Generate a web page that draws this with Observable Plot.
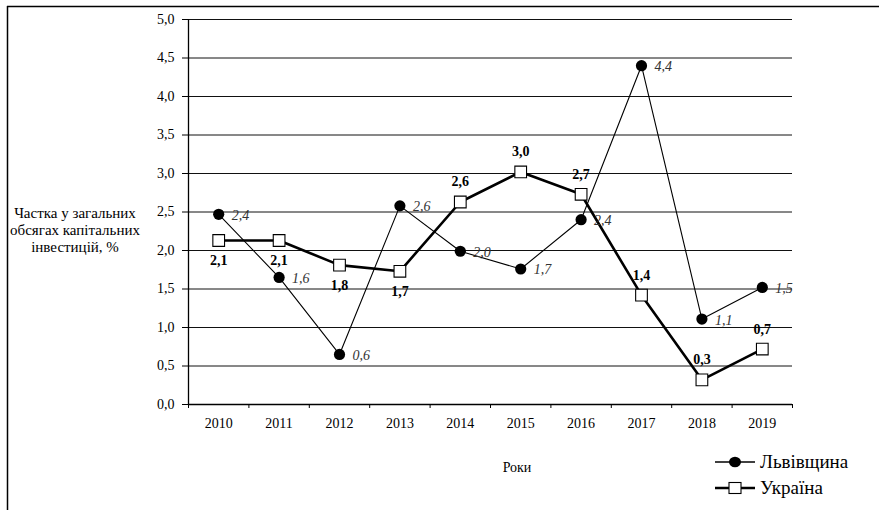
<!DOCTYPE html>
<html>
<head>
<meta charset="utf-8">
<script src="https://cdn.jsdelivr.net/npm/d3@7"></script>
<script src="https://cdn.jsdelivr.net/npm/@observablehq/plot@0.6"></script>
<style>
  html, body { margin: 0; padding: 0; background: #fff; }
  #chart { width: 879px; height: 510px; }
</style>
</head>
<body>
<div id="chart"></div>
<script>
const years = [2010, 2011, 2012, 2013, 2014, 2015, 2016, 2017, 2018, 2019];
const lvivValues = [2.47, 1.65, 0.65, 2.58, 1.99, 1.76, 2.40, 4.40, 1.11, 1.52];
const lvivLabels = ["2,4", "1,6", "0,6", "2,6", "2,0", "1,7", "2,4", "4,4", "1,1", "1,5"];
const ukrValues = [2.13, 2.13, 1.81, 1.73, 2.63, 3.02, 2.73, 1.42, 0.32, 0.72];
const ukrLabels = ["2,1", "2,1", "1,8", "1,7", "2,6", "3,0", "2,7", "1,4", "0,3", "0,7"];
const yTicks = [0, 0.5, 1, 1.5, 2, 2.5, 3, 3.5, 4, 4.5, 5];
const seriesNames = ["Львівщина", "Україна"];
const yTitle = ["Частка у загальних", "обсягах капітальних", "інвестицій, %"];
const xTitle = "Роки";

const FONT = "'Liberation Serif', 'Times New Roman', serif";
const lviv = years.map((y, i) => ({year: y, value: lvivValues[i], label: lvivLabels[i], i}));
const ukr = years.map((y, i) => ({year: y, value: ukrValues[i], label: ukrLabels[i], i}));
const bounds = years.map(y => y - 0.5).concat([years[years.length - 1] + 0.5]);
const fmt = d => d.toFixed(1).replace(".", ",");

const svg = Plot.plot({
  width: 879,
  height: 510,
  marginLeft: 188,
  marginRight: 87,
  marginTop: 19,
  marginBottom: 106,
  style: {fontFamily: FONT, fontSize: "14px", background: "#fff", color: "#000"},
  x: {type: "linear", domain: [bounds[0], bounds[bounds.length - 1]]},
  y: {domain: [0, 5]},
  marks: [
    Plot.ruleY(yTicks.filter(d => d > 0), {stroke: "#111", strokeWidth: 1, strokeOpacity: 1}),
    Plot.ruleX([bounds[0]], {stroke: "#000", strokeWidth: 1.3}),
    Plot.ruleY([0], {stroke: "#000", strokeWidth: 1.3}),
    Plot.axisY({ticks: yTicks, tickFormat: fmt, tickSize: 6, tickPadding: 8, label: null, stroke: "#000", fill: "#000"}),
    Plot.axisX({ticks: bounds, tickFormat: () => "", tickSize: 4, label: null, stroke: "#000"}),
    Plot.axisX({ticks: years, tickFormat: d => String(d), tickSize: 0, tickPadding: 14, label: null, fill: "#000"}),
    Plot.line(lviv, {x: "year", y: "value", stroke: "#000", strokeWidth: 1.1}),
    Plot.line(ukr, {x: "year", y: "value", stroke: "#000", strokeWidth: 2.6}),
    Plot.dot(lviv, {x: "year", y: "value", r: 5.6, fill: "#000", stroke: "none"}),
    Plot.dot(ukr, {x: "year", y: "value", symbol: "square", r: 6.6, fill: "#fff", stroke: "#000", strokeWidth: 1.1}),
    Plot.text(lviv, {x: "year", y: "value", text: "label", dx: 13, dy: 1, textAnchor: "start", fontStyle: "italic", fill: "#333", fontSize: 14}),
    Plot.text(ukr.filter(d => d.i < 4), {x: "year", y: "value", text: "label", dy: 20, fontWeight: "bold", fill: "#000", fontSize: 14}),
    Plot.text(ukr.filter(d => d.i >= 4), {x: "year", y: "value", text: "label", dy: -20, fontWeight: "bold", fill: "#000", fontSize: 14})
  ]
});

document.getElementById("chart").appendChild(svg);

const g = d3.select(svg).append("g").attr("font-family", FONT);
// outer border (top and left edges)
g.append("line").attr("x1", 7).attr("x2", 879).attr("y1", 6.5).attr("y2", 6.5).attr("stroke", "#000").attr("stroke-width", 1.5);
g.append("line").attr("x1", 7.5).attr("x2", 7.5).attr("y1", 6).attr("y2", 510).attr("stroke", "#000").attr("stroke-width", 1.5);

// y title
const yt = g.append("text").attr("text-anchor", "middle").attr("font-size", 15).attr("fill", "#000");
yTitle.forEach((t, i) => yt.append("tspan").attr("x", 75).attr("y", 218 + i * 17).text(t));

// x title
g.append("text").attr("x", 517).attr("y", 472).attr("text-anchor", "middle").attr("font-size", 14).attr("fill", "#000").text(xTitle);

// legend
const leg = [{y: 462, kind: "circle"}, {y: 488, kind: "square"}];
leg.forEach((d, i) => {
  g.append("line").attr("x1", 715).attr("x2", 755).attr("y1", d.y).attr("y2", d.y).attr("stroke", "#000").attr("stroke-width", i === 0 ? 1.3 : 2.4);
  if (d.kind === "circle") {
    g.append("ellipse").attr("cx", 735).attr("cy", d.y).attr("rx", 6).attr("ry", 5.3).attr("fill", "#000");
  } else {
    g.append("rect").attr("x", 729).attr("y", d.y - 5.5).attr("width", 12).attr("height", 11).attr("fill", "#fff").attr("stroke", "#000").attr("stroke-width", 1.1);
  }
  g.append("text").attr("x", 760).attr("y", d.y + 6).attr("text-anchor", "start").attr("font-size", 19).attr("fill", "#000").text(seriesNames[i]);
});
</script>
</body>
</html>
